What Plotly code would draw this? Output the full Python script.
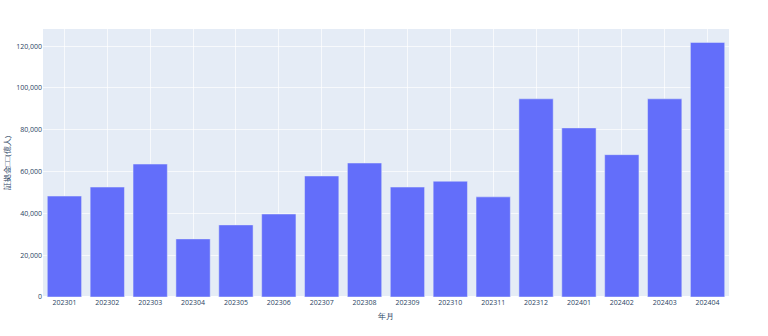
import plotly.graph_objects as go

months = ["202301", "202302", "202303", "202304", "202305", "202306", "202307", "202308",
          "202309", "202310", "202311", "202312", "202401", "202402", "202403", "202404"]
values = [48300, 52600, 63600, 27800, 34500, 39700, 57900, 64100,
          52600, 55400, 47900, 94800, 80900, 68100, 94800, 121800]

fig = go.Figure(go.Bar(x=months, y=values))
fig.update_layout(
    template="plotly",
    width=768, height=336,
    margin=dict(l=43, r=39, t=29, b=39, autoexpand=False),
    font=dict(size=7),
    xaxis=dict(title=dict(text="年月", standoff=7), type="category", automargin=False,
               showgrid=True, gridcolor="rgba(255,255,255,0.7)", gridwidth=0.8),
    yaxis=dict(title=dict(text="証拠金□□(億人)", standoff=4), tickformat=",", automargin=False,
               gridcolor="rgba(255,255,255,0.7)", gridwidth=0.8),
)
fig.write_html("out.html")
